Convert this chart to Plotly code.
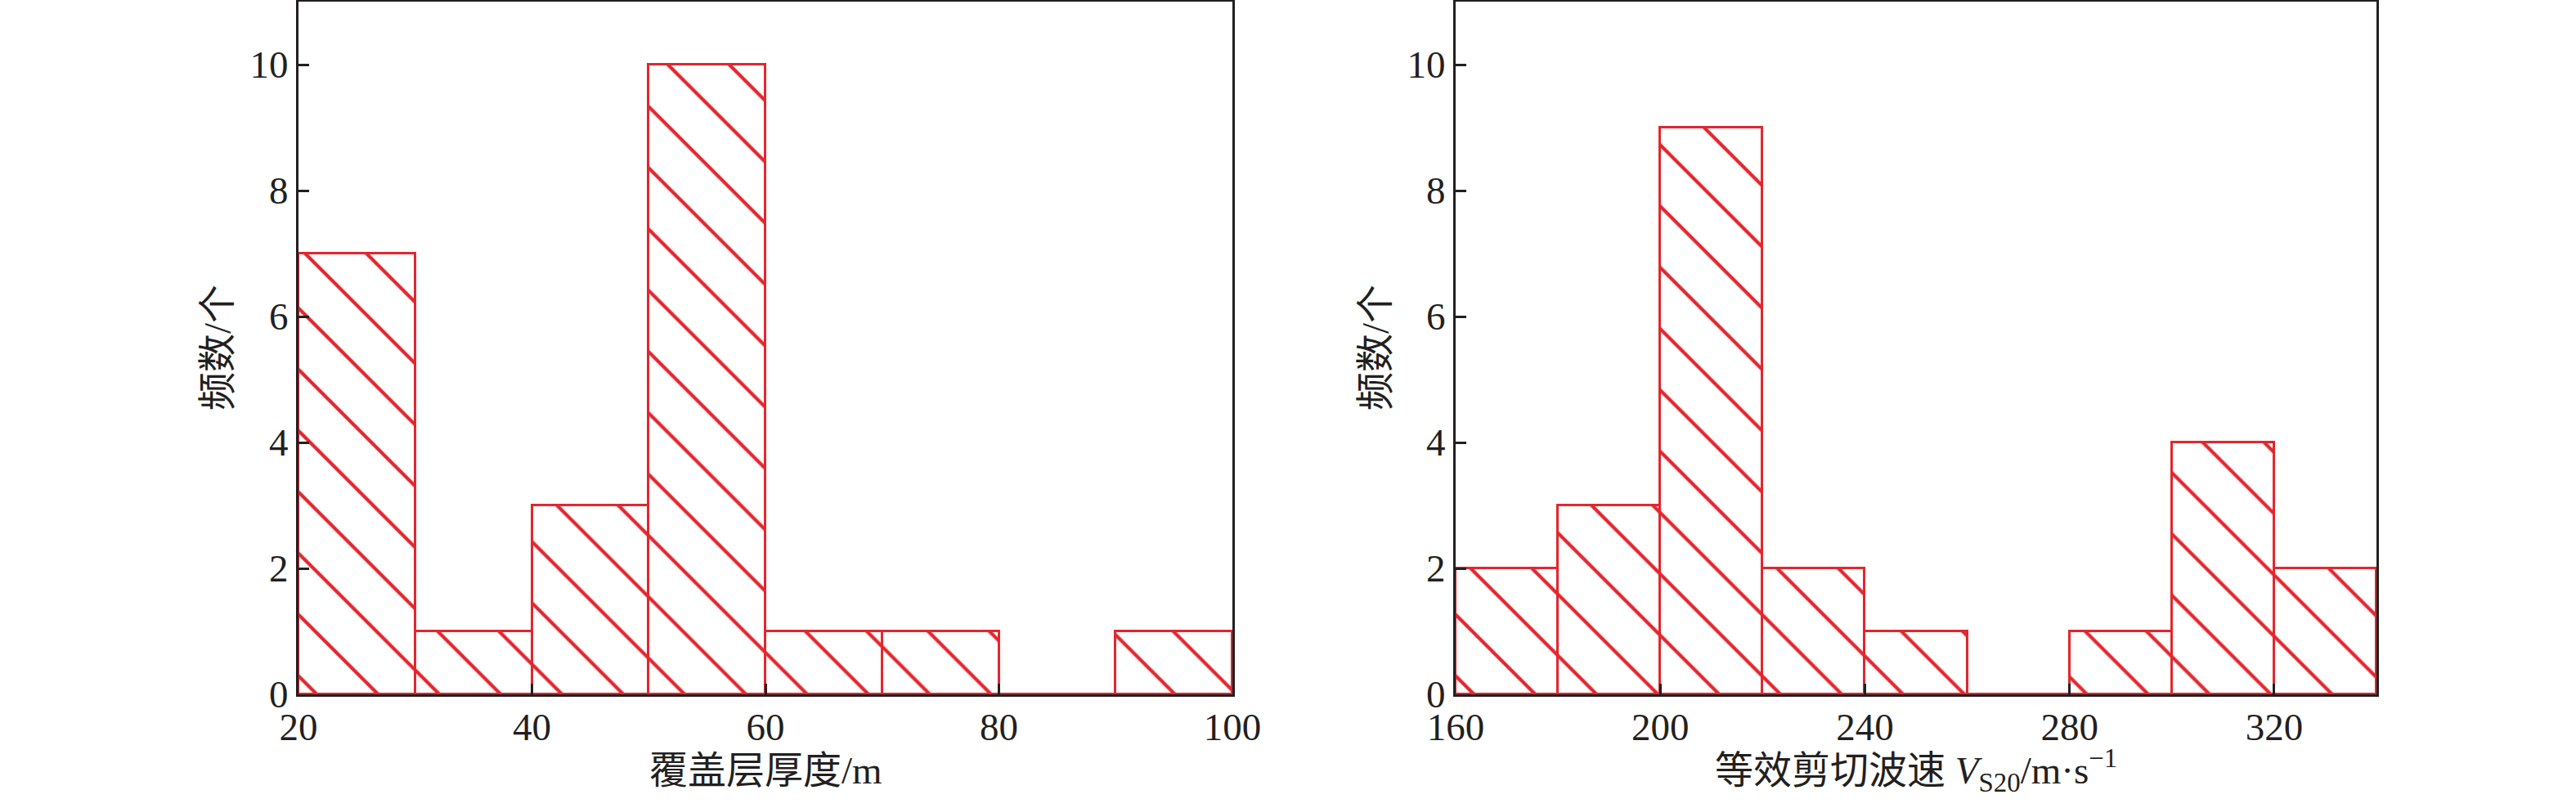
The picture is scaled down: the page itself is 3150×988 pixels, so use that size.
import plotly.graph_objects as go

# ---- data ----
depth_edges = [20, 30, 40, 50, 60, 70, 80, 90, 100]
depth_counts = [7, 1, 3, 10, 1, 1, 0, 1]

vs_edges = [160, 180, 200, 220, 240, 260, 280, 300, 320, 340]
vs_counts = [2, 3, 9, 2, 1, 0, 1, 4, 2]

x_ticks_left = [20, 40, 60, 80, 100]
x_ticks_right = [160, 200, 240, 280, 320]
y_ticks = [0, 2, 4, 6, 8, 10]

left_xtitle = "覆盖层厚度/m"
right_xtitle = "等效剪切波速 <i>V</i><sub>S20</sub>/m·s<sup>−1</sup>"
ytitle = "频数/个"

RED = "#e3262e"
BLACK = "#231f20"
FONT = "Liberation Serif, Times New Roman, Noto Sans CJK SC, serif"


def centers(edges):
    return [(a + b) / 2 for a, b in zip(edges[:-1], edges[1:])]


def widths(edges):
    return [b - a for a, b in zip(edges[:-1], edges[1:])]


def bar(edges, counts, xa, ya):
    return go.Bar(
        x=centers(edges), y=counts, width=widths(edges),
        xaxis=xa, yaxis=ya,
        marker=dict(
            color="white",
            line=dict(color=RED, width=3),
            pattern=dict(shape="\\", size=53, solidity=0.08,
                         fgcolor=RED, fgopacity=1, bgcolor="white",
                         fillmode="overlay"),
        ),
        showlegend=False, hoverinfo="skip",
    )


fig = go.Figure()
fig.add_trace(bar(depth_edges, depth_counts, "x", "y"))
fig.add_trace(bar(vs_edges, vs_counts, "x2", "y2"))

axis_common = dict(
    showline=True, linecolor=BLACK, linewidth=3, mirror=True,
    ticks="inside", ticklen=13, tickwidth=3, tickcolor=BLACK,
    showgrid=False, zeroline=False, automargin=False,
    tickfont=dict(family=FONT, size=47, color=BLACK),
)

fig.update_layout(
    template="none",
    width=3150, height=988,
    margin=dict(l=0, r=0, t=2, b=139, pad=0),
    paper_bgcolor="white", plot_bgcolor="white",
    bargap=0,
    xaxis=dict(domain=[365 / 3150, 1507 / 3150], range=[20, 100],
               tickvals=x_ticks_left, anchor="y", ticklabelstandoff=-3, **axis_common),
    yaxis=dict(range=[0, 11], tickvals=y_ticks, anchor="x", ticklabelstandoff=0, **axis_common),
    xaxis2=dict(domain=[1780 / 3150, 2906 / 3150], range=[160, 340],
                tickvals=x_ticks_right, anchor="y2", ticklabelstandoff=-3, **axis_common),
    yaxis2=dict(range=[0, 11], tickvals=y_ticks, anchor="x2", ticklabelstandoff=0, **axis_common),
)

title_font = dict(family=FONT, size=47, color=BLACK)
H = 988 - 2 - 139
bottom = 988 - 139
ann = [
    dict(text=left_xtitle, x=(365 + 1507) / 2 / 3150, y=(bottom - 942) / H,
         xref="paper", yref="paper", xanchor="center", yanchor="middle",
         showarrow=False, font=title_font),
    dict(text=right_xtitle, x=(1780 + 2906) / 2 / 3150, y=(bottom - 942) / H,
         xref="paper", yref="paper", xanchor="center", yanchor="middle",
         showarrow=False, font=title_font),
    dict(text=ytitle, x=266 / 3150, y=(bottom - 425) / H, textangle=-90,
         xref="paper", yref="paper", xanchor="center", yanchor="middle",
         showarrow=False, font=title_font),
    dict(text=ytitle, x=1682 / 3150, y=(bottom - 425) / H, textangle=-90,
         xref="paper", yref="paper", xanchor="center", yanchor="middle",
         showarrow=False, font=title_font),
]
fig.update_layout(annotations=ann)

fig.write_html(
    "out.html",
    config={"displayModeBar": False},
    post_script="document.body.style.margin='0';document.body.style.overflow='hidden';",
)
